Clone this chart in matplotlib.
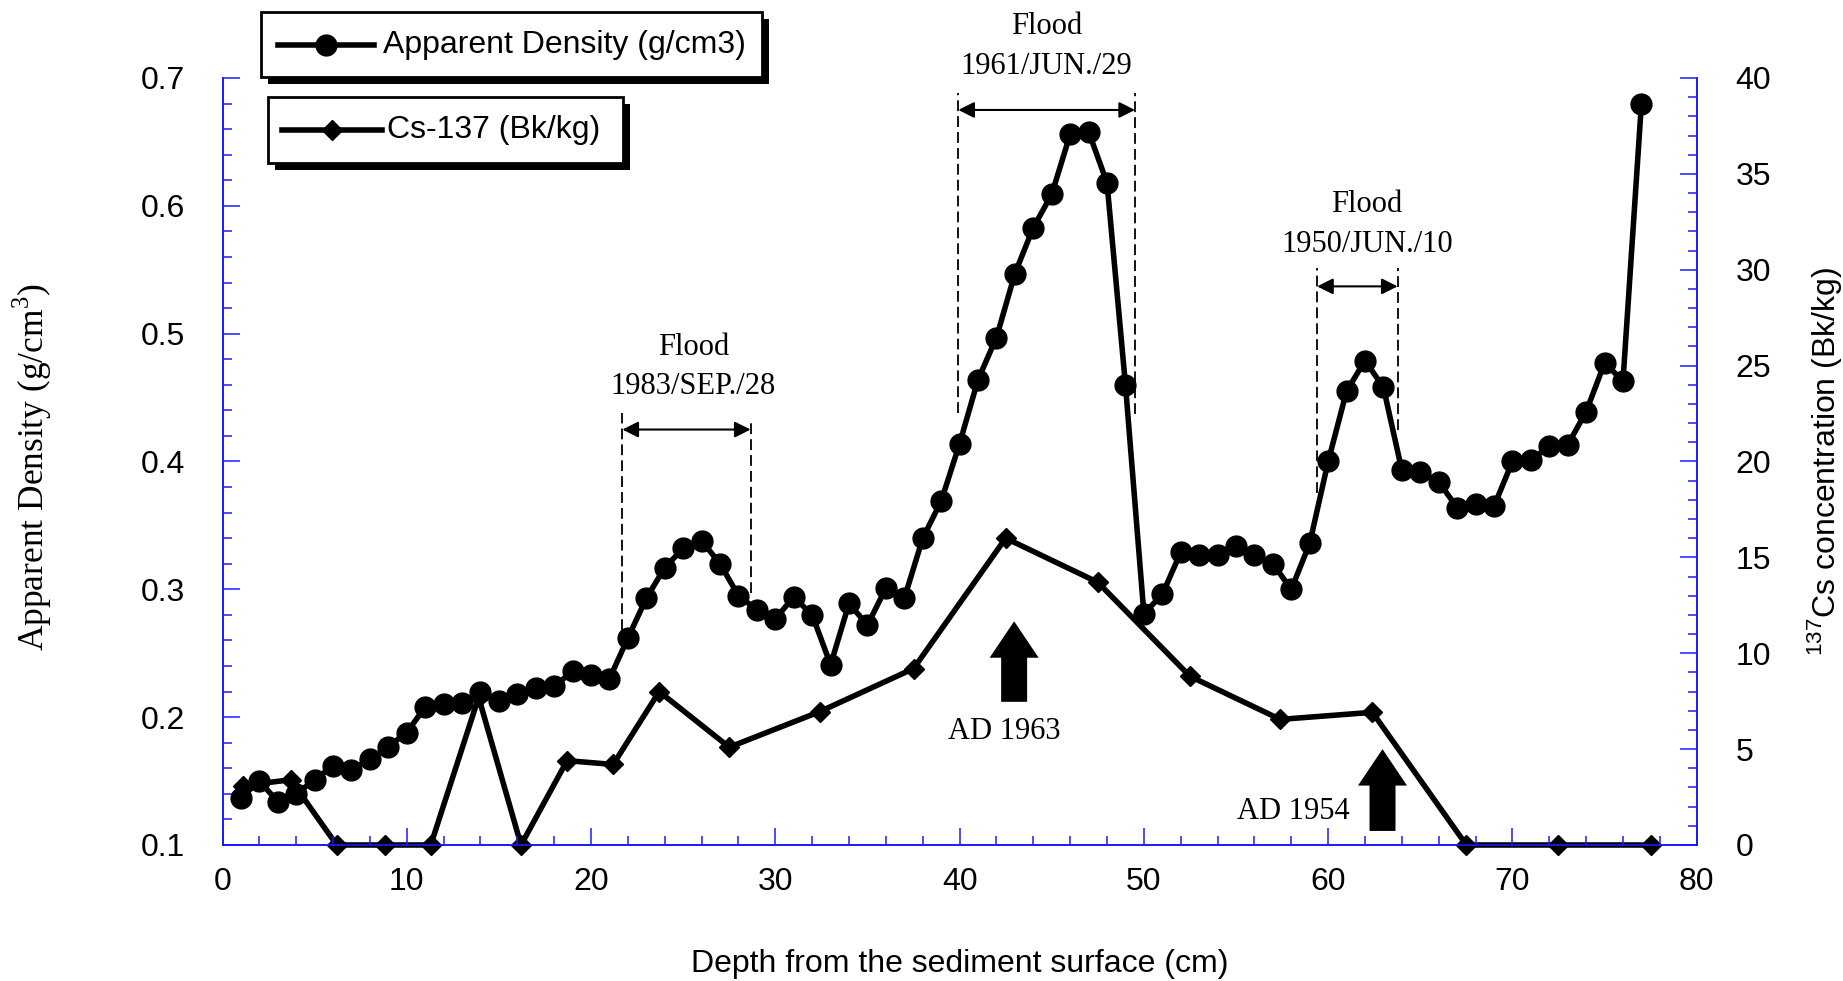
import matplotlib

matplotlib.use("Agg")
import matplotlib.pyplot as plt
from matplotlib.lines import Line2D
from matplotlib.patches import Rectangle, FancyArrow
from matplotlib.ticker import MultipleLocator

W, H = 1843, 981
SANS = "Liberation Sans"
SERIF = "Liberation Serif"
AXIS_BLUE = "#1a1aff"

# apparent density, one sample per cm
depth_cm = [1, 2, 3, 4, 5, 6, 7, 8, 9, 10, 11, 12, 13, 14, 15, 16, 17, 18, 19, 20,
            21, 22, 23, 24, 25, 26, 27, 28, 29, 30, 31, 32, 33, 34, 35, 36, 37, 38, 39, 40,
            41, 42, 43, 44, 45, 46, 47, 48, 49, 50, 51, 52, 53, 54, 55, 56, 57, 58, 59, 60,
            61, 62, 63, 64, 65, 66, 67, 68, 69, 70, 71, 72, 73, 74, 75, 76, 77]
density = [0.137, 0.150, 0.134, 0.140, 0.151, 0.162, 0.159, 0.167, 0.177, 0.188,
           0.208, 0.210, 0.211, 0.220, 0.213, 0.218, 0.223, 0.224, 0.236, 0.233,
           0.230, 0.262, 0.293, 0.317, 0.332, 0.338, 0.320, 0.295, 0.284, 0.277,
           0.294, 0.280, 0.241, 0.289, 0.272, 0.301, 0.293, 0.340, 0.369, 0.414,
           0.464, 0.497, 0.547, 0.583, 0.609, 0.656, 0.658, 0.618, 0.460, 0.281,
           0.296, 0.329, 0.327, 0.327, 0.334, 0.327, 0.320, 0.300, 0.336, 0.400,
           0.455, 0.479, 0.458, 0.393, 0.392, 0.384, 0.364, 0.367, 0.365, 0.400,
           0.401, 0.412, 0.413, 0.439, 0.477, 0.463, 0.680]

# Cs-137
cs_depth_cm = [1.1, 3.7, 6.2, 8.8, 11.3, 13.9, 16.2, 18.7, 21.2, 23.7, 27.5,
               32.4, 37.5, 42.5, 47.5, 52.5, 57.4, 62.4, 67.5, 72.5, 77.5]
cs137 = [3.1, 3.4, 0, 0, 0, 7.7, 0, 4.4, 4.2, 8.0, 5.1,
         6.95, 9.2, 16.0, 13.7, 8.8, 6.55, 6.92, 0, 0, 0]

# flood markers (density axis units)
flood_dates = ["1983/SEP./28", "1961/JUN./29", "1950/JUN./10"]
flood_left = [21.7, 39.93, 59.4]
flood_right = [28.66, 49.52, 63.77]
flood_arrow_y = [0.425, 0.675, 0.537]
dash_top_left = [0.438, 0.688, 0.551]
dash_top_right = [0.431, 0.688, 0.551]
dash_bot_left = [0.268, 0.438, 0.375]
dash_bot_right = [0.297, 0.437, 0.425]
flood_text_x = [25.55, 44.7, 62.1]
flood_title_y = [0.489, 0.740, 0.601]
flood_date_y = [0.4586, 0.709, 0.570]

# dating arrows
ad_labels = ["AD 1963", "AD 1954"]
ad_arrow_x = [42.96, 62.95]
ad_arrow_base = [0.212, 0.111]
ad_arrow_tip = [0.275, 0.175]
ad_label_x = [42.42, 58.1]
ad_label_y = [0.1887, 0.126]

fig = plt.figure(figsize=(W / 100, H / 100), dpi=100)
fig.patch.set_facecolor("white")

ax = fig.add_axes([222.5 / W, 1 - 845 / H, (1696.7 - 222.5) / W, (845 - 78) / H])
ax_cs = ax.twinx()
ax.set_zorder(ax_cs.get_zorder() + 1)
ax.patch.set_visible(False)

ax_cs.plot(cs_depth_cm, cs137, color="black", lw=4.0, marker="D", ms=10.5,
           clip_on=False, zorder=3)
ax.plot(depth_cm, density, color="black", lw=4.0, marker="o", ms=15,
        clip_on=False, zorder=3)

ax.set_xlim(0, 80)
ax.set_ylim(0.1, 0.7)
ax_cs.set_ylim(0, 40)

ax.xaxis.set_major_locator(MultipleLocator(10))
ax.xaxis.set_minor_locator(MultipleLocator(2))
ax.yaxis.set_major_locator(MultipleLocator(0.1))
ax.yaxis.set_minor_locator(MultipleLocator(0.02))
ax_cs.yaxis.set_major_locator(MultipleLocator(5))
ax_cs.yaxis.set_minor_locator(MultipleLocator(1))

for a in (ax, ax_cs):
    a.spines["top"].set_visible(False)
    for s in ("left", "right", "bottom"):
        a.spines[s].set_color(AXIS_BLUE)
        a.spines[s].set_linewidth(1.2)
    a.tick_params(which="major", direction="in", length=12, width=1.1, color=AXIS_BLUE,
                  labelsize=23, labelfontfamily=SANS)
    a.tick_params(which="minor", direction="in", length=6.5, width=1.1, color=AXIS_BLUE)
ax.tick_params(axis="y", which="major", pad=27)
ax_cs.tick_params(axis="y", which="major", pad=28)
ax.tick_params(axis="x", which="major", pad=16)
ax.yaxis.set_major_formatter(matplotlib.ticker.FormatStrFormatter("%.1f"))

# axis titles
fig.text(0.5 * (690 + 1229) / W, 1 - 964 / H, "Depth from the sediment surface (cm)",
         ha="center", va="center", fontsize=23, family=SANS)
fig.text(32 / W, 1 - 651 / H, r"Apparent Density (g/cm$^{\mathregular{3}}$)",
         rotation=90, ha="center", va="bottom", fontsize=25.5, family=SERIF)
fig.text(1824 / W, 1 - 461 / H, r"$^{\mathregular{137}}$Cs concentration (Bk/kg)",
         rotation=90, ha="center", va="center", fontsize=23, family=SANS)

# flood intervals
for i, label in enumerate(flood_dates):
    ax.plot([flood_left[i]] * 2, [dash_bot_left[i], dash_top_left[i]], color="black",
            lw=1.3, ls=(0, (6, 2.8)), clip_on=False)
    ax.plot([flood_right[i]] * 2, [dash_bot_right[i], dash_top_right[i]], color="black",
            lw=1.3, ls=(0, (6, 2.8)), clip_on=False)
    ax.annotate("", xy=(flood_right[i], flood_arrow_y[i]), xytext=(flood_left[i], flood_arrow_y[i]),
                arrowprops=dict(arrowstyle="<|-|>", color="black", lw=1.5,
                                mutation_scale=24, shrinkA=0, shrinkB=0),
                annotation_clip=False)
    ax.text(flood_text_x[i], flood_title_y[i], "Flood", ha="center", va="center",
            fontsize=22, family=SERIF, clip_on=False)
    ax.text(flood_text_x[i], flood_date_y[i], label, ha="center", va="center",
            fontsize=22, family=SERIF, clip_on=False)

# dating arrows
for i, label in enumerate(ad_labels):
    ax.add_patch(FancyArrow(ad_arrow_x[i], ad_arrow_base[i], 0,
                            ad_arrow_tip[i] - ad_arrow_base[i],
                            width=1.41, head_width=2.66, head_length=0.0285,
                            length_includes_head=True, color="black", lw=0, zorder=4))
    ax.text(ad_label_x[i], ad_label_y[i], label, ha="center", va="center",
            fontsize=22, family=SERIF)


# legend: two separate boxes with drop shadows, in pixel coordinates
def fx(x):
    return x / W


def fy(y):
    return 1 - y / H


def legend_box(x0, y0, x1, y1, marker, ms, line_x0, line_x1, text_x, text):
    yc = 0.5 * (y0 + y1)
    fig.add_artist(Rectangle((fx(x0 + 7), fy(y1 + 7)), fx(x1 - x0), (y1 - y0) / H,
                             transform=fig.transFigure, facecolor="black",
                             edgecolor="black", lw=0, zorder=5))
    fig.add_artist(Rectangle((fx(x0), fy(y1)), fx(x1 - x0), (y1 - y0) / H,
                             transform=fig.transFigure, facecolor="white",
                             edgecolor="black", lw=2.0, zorder=6))
    fig.add_artist(Line2D([fx(line_x0), fx(line_x1)], [fy(yc), fy(yc)],
                          transform=fig.transFigure, color="black", lw=4.0, zorder=7))
    fig.add_artist(Line2D([fx(0.5 * (line_x0 + line_x1))], [fy(yc)], marker=marker,
                          ms=ms, color="black", transform=fig.transFigure, zorder=7))
    fig.text(fx(text_x), fy(yc), text, ha="left", va="center", fontsize=23,
             family=SANS, zorder=7)


legend_box(261, 12, 762, 77, "o", 15, 278, 374, 383, "Apparent Density (g/cm3)")
legend_box(268, 97, 623, 163, "D", 10.5, 282, 382, 387, "Cs-137 (Bk/kg)")

fig.savefig("out.png", dpi=100)
